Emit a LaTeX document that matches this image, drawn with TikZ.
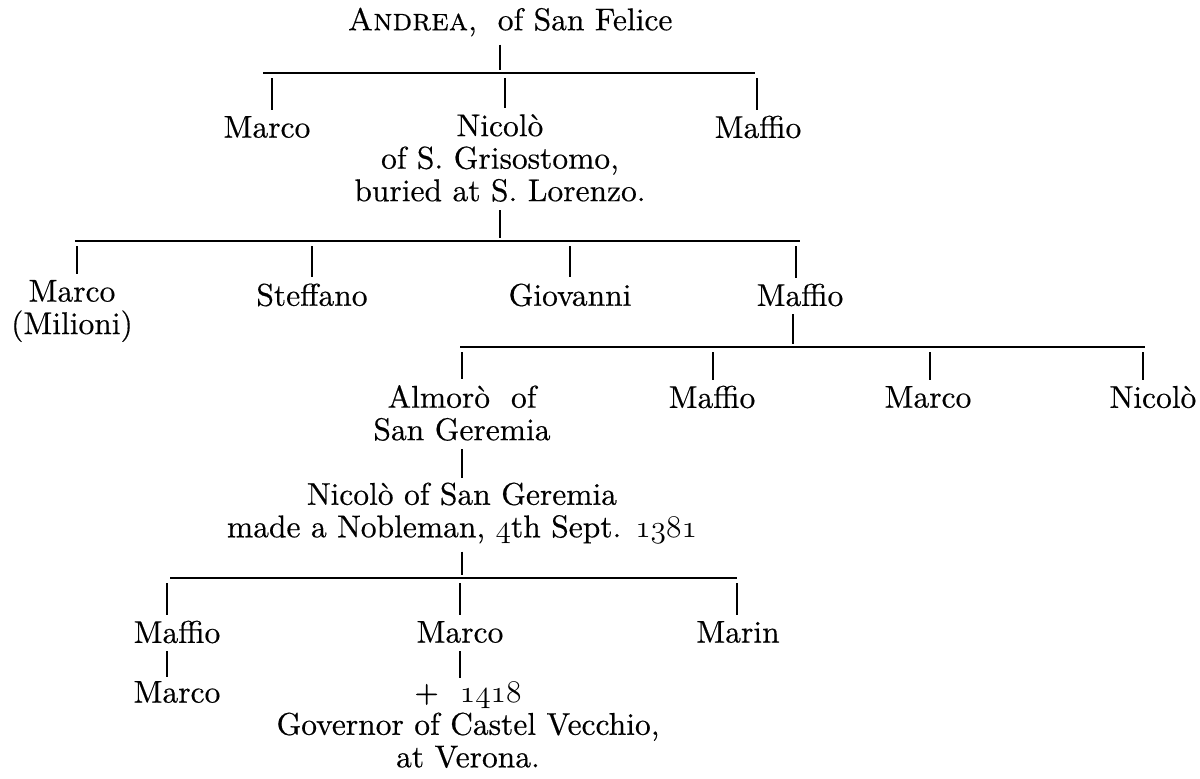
\documentclass[tikz,border=0pt]{standalone}
\usepackage{fix-cm}
\usepackage{fontspec}
\setmainfont{lmroman10-regular.otf}[SmallCapsFont=lmromancaps10-regular.otf, ItalicFont=lmroman10-italic.otf, BoldFont=lmroman10-bold.otf, FakeBold=0.4]
\newcommand{\osn}[1]{$\mathnormal{#1}$}
\begin{document}
\begin{tikzpicture}[x=1pt,y=-1pt,
  every node/.style={font=\fontsize{31.5}{32.5}\selectfont, align=center, inner sep=1pt},
  bar/.style={line width=1.7pt},
  stem/.style={line width=1.4pt, shorten <=7pt, shorten >=3pt},
  drop/.style={line width=1.4pt, shorten <=5pt, shorten >=5pt}]
\useasboundingbox (0,0) rectangle (1200,779);
% nodes
\node (andrea) at (510,22) {\textsc{Andrea},\ \ of San Felice};
\node (marcoA) at (267,127) {Marco};
\node (nicoloA) at (500,158) {Nicolò\\of S. Grisostomo,\\buried at S. Lorenzo.};
\node (maffioA) at (758,127) {Maffio};
\node (marcoB) at (72,311) {Marco\\(Milioni)};
\node (steffano) at (312,295) {Steffano};
\node (giovanni) at (570,295) {Giovanni};
\node (maffioB) at (800,295) {Maffio};
\node (almoro) at (462,413) {Almorò\ \ of\\San Geremia};
\node (maffioC) at (712,397) {Maffio};
\node (marcoC) at (928,397) {Marco};
\node (nicoloC) at (1153,397) {Nicolò};
\node (nicoloD) at (462,513) {Nicolò of San Geremia\\made a Nobleman, \osn{4}th Sept. \osn{1381}};
\node (maffioD) at (177,632) {Maffio};
\node (marcoD) at (460,632) {Marco};
\node (marin) at (738,632) {Marin};
\node (marcoE) at (177,692) {Marco};
\node (marcoF) at (468,725) {+\ \ \osn{1418}\\Governor of Castel Vecchio,\\at Verona.};
% bars
\coordinate (b1l) at (263,73); \coordinate (b1r) at (755,73);
\coordinate (b2l) at (75,241); \coordinate (b2r) at (800,241);
\coordinate (b3l) at (460,347); \coordinate (b3r) at (1145,347);
\coordinate (b4l) at (170,578); \coordinate (b4r) at (737,578);
\draw[bar] (b1l) -- (b1r);
\draw[bar] (b2l) -- (b2r);
\draw[bar] (b3l) -- (b3r);
\draw[bar] (b4l) -- (b4r);
% stems from parents
\coordinate (s1) at (500,73);
\coordinate (s2) at (500,241);
\coordinate (s3) at (793,347);
\coordinate (s4) at (462,578);
\draw[stem] (s1 |- andrea.south) -- (s1);
\draw[stem] (s2 |- nicoloA.south) -- (s2);
\draw[stem] (s3 |- maffioB.south) -- (s3);
\draw[stem] (s4 |- nicoloD.south) -- (s4);
\draw[stem] (almoro.south) -- (nicoloD.north);
% drops
\coordinate (d1a) at (272,73); \coordinate (d1b) at (505,73); \coordinate (d1c) at (757,73);
\draw[drop] (d1a) -- (d1a |- marcoA.north);
\draw[drop] (d1b) -- (d1b |- nicoloA.north);
\draw[drop] (d1c) -- (d1c |- maffioA.north);
\coordinate (d2a) at (77,241); \coordinate (d2b) at (312,241); \coordinate (d2c) at (570,241); \coordinate (d2d) at (796,241);
\draw[drop] (d2a) -- (d2a |- marcoB.north);
\draw[drop] (d2b) -- (d2b |- steffano.north);
\draw[drop] (d2c) -- (d2c |- giovanni.north);
\draw[drop] (d2d) -- (d2d |- maffioB.north);
\coordinate (d3a) at (462,347); \coordinate (d3b) at (713,347); \coordinate (d3c) at (930,347); \coordinate (d3d) at (1143,347);
\draw[drop] (d3a) -- (d3a |- almoro.north);
\draw[drop] (d3b) -- (d3b |- maffioC.north);
\draw[drop] (d3c) -- (d3c |- marcoC.north);
\draw[drop] (d3d) -- (d3d |- nicoloC.north);
\coordinate (d4a) at (167,578); \coordinate (d4b) at (460,578); \coordinate (d4c) at (737,578);
\draw[drop] (d4a) -- (d4a |- maffioD.north);
\draw[drop] (d4b) -- (d4b |- marcoD.north);
\draw[drop] (d4c) -- (d4c |- marin.north);
\coordinate (e1) at (167,0); \coordinate (e2) at (460,0);
\draw[stem] (e1 |- maffioD.south) -- (e1 |- marcoE.north);
\draw[stem] (e2 |- marcoD.south) -- (e2 |- marcoF.north);
\end{tikzpicture}
\end{document}
